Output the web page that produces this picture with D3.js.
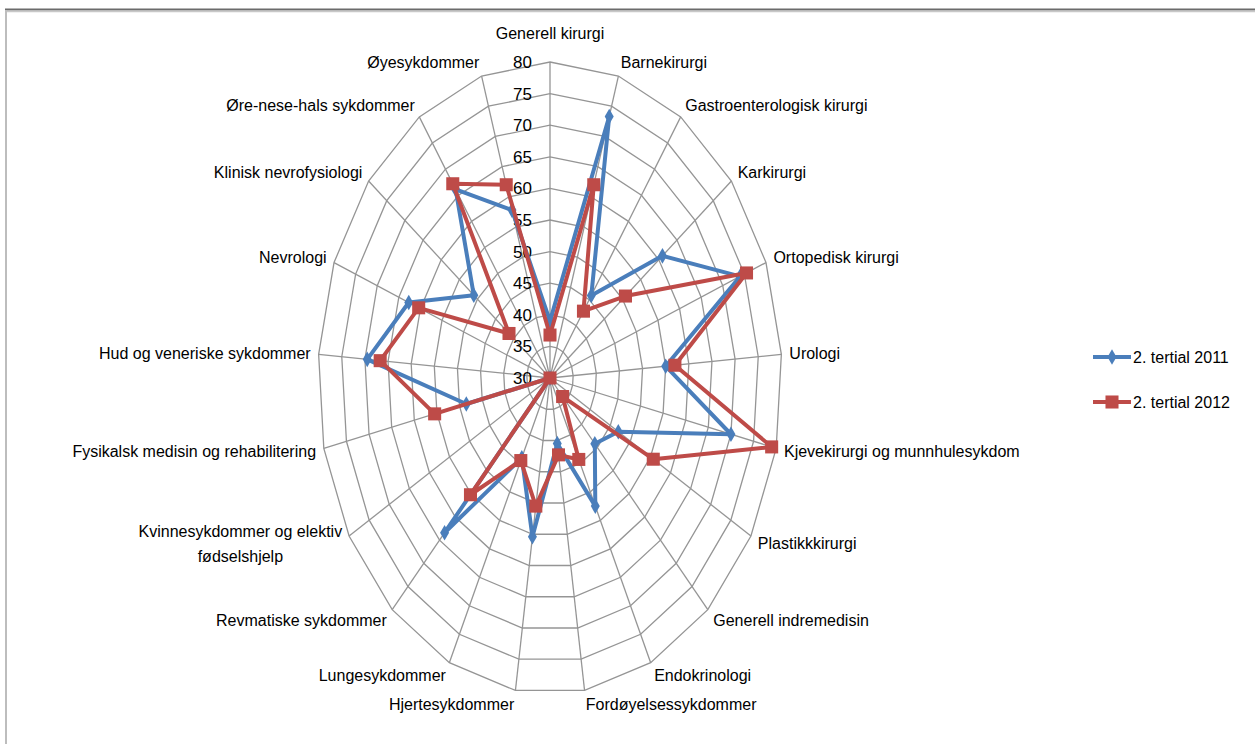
<!DOCTYPE html>
<meta charset="utf-8">
<head>
<style>
body { margin: 0; background: #fff; }
svg text { font-family: "Liberation Sans", Arial, sans-serif; font-size: 16px; fill: #000; }
.tick { font-size: 17px; }
.grid { fill: none; stroke: #959595; stroke-width: 1.3; }
.series { fill: none; stroke-width: 4; stroke-linejoin: round; }
</style>
</head>
<body>
<svg width="1255" height="744"></svg>
<script src="https://cdnjs.cloudflare.com/ajax/libs/d3/7.8.5/d3.min.js"></script>
<script>

var categories = ["Generell kirurgi", "Barnekirurgi", "Gastroenterologisk kirurgi", "Karkirurgi",
  "Ortopedisk kirurgi", "Urologi", "Kjevekirurgi og munnhulesykdom", "Plastikkkirurgi",
  "Generell indremedisin", "Endokrinologi", "Fordøyelsessykdommer", "Hjertesykdommer",
  "Lungesykdommer", "Revmatiske sykdommer", "Kvinnesykdommer og elektiv|fødselshjelp",
  "Fysikalsk medisin og rehabilitering", "Hud og veneriske sykdommer", "Nevrologi",
  "Klinisk nevrofysiologi", "Øre-nese-hals sykdommer", "Øyesykdommer"];

var values2011 = [39, 73.3, 45.8, 61, 74, 55, 70, 47, 44.2, 52.5, 40.5, 55.4, 44, 63.4, 30, 48.5, 69.5, 62.7, 51, 66.1, 57.8];
var values2012 = [36.8, 62, 42.8, 50.8, 75.5, 57, 79, 55.7, 34, 44.3, 42.3, 50.5, 44.5, 55.2, 30, 55.5, 66.7, 60.4, 41.3, 67.2, 62];

var ticks = [30, 35, 40, 45, 50, 55, 60, 65, 70, 75, 80];

var seriesNames = ["2. tertial 2011", "2. tertial 2012"];
var colors = ["#4a7ebb", "#be4b48"];

var svg = d3.select("svg");

// frame
svg.append("line").attr("x1", 5).attr("x2", 1255).attr("y1", 9.5).attr("y2", 9.5)
  .attr("stroke", "#6b6b6b").attr("stroke-width", 2);
svg.append("line").attr("x1", 5).attr("x2", 1255).attr("y1", 11.5).attr("y2", 11.5)
  .attr("stroke", "#c8c8c8").attr("stroke-width", 1.5);
svg.append("line").attr("x1", 6).attr("x2", 6).attr("y1", 10).attr("y2", 744)
  .attr("stroke", "#bdbdbd").attr("stroke-width", 2);

var cx = 550, cy = 378, rx = 232, ry = 316;
var g = svg.append("g").attr("transform", "translate(" + cx + "," + cy + ")");

var r = d3.scaleLinear().domain([30, 80]).range([0, 1]);
var angle = d3.scaleLinear().domain([0, categories.length]).range([0, 2 * Math.PI]);

function pt(i, v) {
  var a = angle(i), k = r(v);
  return [rx * k * Math.sin(a), -ry * k * Math.cos(a)];
}

// rings
ticks.slice(1).forEach(function(t) {
  g.append("path").attr("class", "grid")
    .attr("d", d3.line()(categories.map(function(c, i) { return pt(i, t); })) + "Z");
});

// spokes
categories.forEach(function(c, i) {
  var p = pt(i, 80);
  g.append("line").attr("class", "grid").attr("x1", 0).attr("y1", 0).attr("x2", p[0]).attr("y2", p[1]);
});

// tick labels
g.selectAll(".tick").data(ticks).enter().append("text")
  .attr("class", "tick")
  .attr("x", -18)
  .attr("y", function(d) { return pt(0, d)[1]; })
  .attr("dy", "0.35em")
  .attr("text-anchor", "end")
  .text(function(d) { return d; });

// category labels
categories.forEach(function(c, i) {
  var a = angle(i), p = pt(i, 80);
  var s = Math.sin(a);
  var top = Math.abs(s) < 0.05;
  var x = p[0] + 8 * s, y = p[1] - (top ? 29 : 14 * Math.cos(a));
  var anchor = top ? "middle" : (s > 0 ? "start" : "end");
  var lines = c.split("|");
  if (lines.length === 1) {
    g.append("text").attr("x", x).attr("y", y).attr("dy", "0.35em")
      .attr("text-anchor", anchor).text(c);
  } else {
    var t1 = g.append("text").attr("x", x).attr("y", y - 12).attr("dy", "0.35em")
      .attr("text-anchor", anchor).text(lines[0]);
    var w = t1.node().getComputedTextLength();
    g.append("text").attr("x", x - w / 2).attr("y", y + 13).attr("dy", "0.35em")
      .attr("text-anchor", "middle").text(lines[1]);
  }
});

var diamond = d3.symbol().type(d3.symbolDiamond).size(70);
var square = d3.symbol().type(d3.symbolSquare).size(170);

[values2011, values2012].forEach(function(vals, si) {
  var pts = vals.map(function(v, i) { return pt(i, v); });
  g.append("path").attr("class", "series").attr("stroke", colors[si])
    .attr("d", d3.line()(pts) + "Z");
  g.selectAll(".m" + si).data(pts).enter().append("path")
    .attr("transform", function(d) { return "translate(" + d[0] + "," + d[1] + ")"; })
    .attr("d", si === 0 ? diamond : square)
    .attr("fill", colors[si]);
});

// legend
var legend = svg.append("g").attr("transform", "translate(1093,357)");
seriesNames.forEach(function(name, si) {
  var lg = legend.append("g").attr("transform", "translate(0," + si * 45 + ")");
  lg.append("line").attr("x1", 0).attr("x2", 38).attr("y1", 0).attr("y2", 0)
    .attr("stroke", colors[si]).attr("stroke-width", 4);
  lg.append("path").attr("transform", "translate(19,0)")
    .attr("d", si === 0 ? diamond : square).attr("fill", colors[si]);
  lg.append("text").attr("x", 40).attr("y", 0).attr("dy", "0.35em").text(name);
});

</script>
</body>
</html>
